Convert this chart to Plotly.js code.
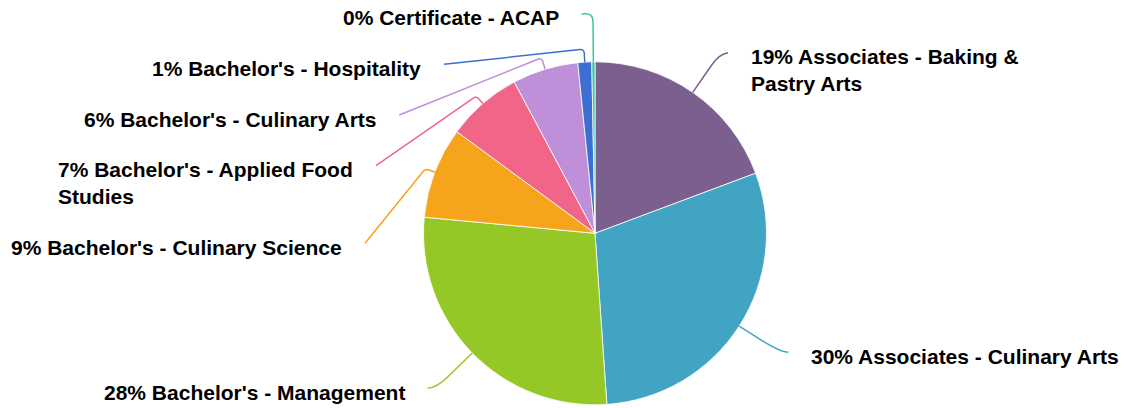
<!DOCTYPE html>
<html>
<head>
<meta charset="utf-8">
<script src="https://cdn.plot.ly/plotly-3.0.1.min.js"></script>
<style>html,body{margin:0;padding:0;background:#fff;}#chart{width:1126px;height:408px;}</style>
</head>
<body>
<div id="chart"></div>
<script>
// ---- data ----
const categories = [
  "Associates - Baking & Pastry Arts",
  "Associates - Culinary Arts",
  "Bachelor's - Management",
  "Bachelor's - Culinary Science",
  "Bachelor's - Applied Food Studies",
  "Bachelor's - Culinary Arts",
  "Bachelor's - Hospitality",
  "Certificate - ACAP"
];
const values = [19.3, 29.6, 27.6, 8.6, 7.1, 6.2, 1.3, 0.3];
const colors = ["#7b5f8e", "#41a4c3", "#95c827", "#f5a41c", "#f06588", "#bf8fd9", "#3c6fd1", "#30c99e"];

// ---- label layout (leader line end points in px, stub length, corner radius, side, wrap) ----
const labelLayout = [
  {end: [728, 52.7],   stub: 47,   corner: 14, side: "right", wrap: 26},
  {end: [788.3, 352.3],stub: 48.7, corner: 30, side: "right", wrap: 99},
  {end: [427.7, 388.3],stub: 49,   corner: 14, side: "left",  wrap: 99},
  {end: [365, 243.3],  stub: 10,   corner: 4,  side: "left",  wrap: 99},
  {end: [376, 165.7],  stub: 10,   corner: 4,  side: "left",  wrap: 28},
  {end: [399.3, 115],  stub: 12,   corner: 4,  side: "left",  wrap: 99},
  {end: [444, 64.3],   stub: 13,   corner: 4,  side: "left",  wrap: 99},
  {end: [581.7, 14],   stub: 49,   corner: 9,  side: "left",  wrap: 99}
];

const W = 1126, H = 408;
const CX = 595, CY = 233.3, R = 171.5;
const fontFamily = "Liberation Sans, Arial, Helvetica, sans-serif";
const fontSize = 21;

function px(x) { return x / W; }
function py(y) { return 1 - y / H; }

function wrapText(t, maxChars) {
  const words = t.split(" ");
  const lines = [];
  let cur = "";
  words.forEach(w => {
    if (cur.length && (cur + " " + w).length > maxChars) { lines.push(cur); cur = w; }
    else cur = cur.length ? cur + " " + w : w;
  });
  if (cur.length) lines.push(cur);
  return lines;
}

const total = values.reduce((a, b) => a + b, 0);
const shapes = [];
const annotations = [];
let cum = 0;
values.forEach((v, i) => {
  const mid = (cum + v / 2) / total * 2 * Math.PI;
  cum += v;
  const ux = Math.sin(mid), uy = -Math.cos(mid);
  const L = labelLayout[i];
  const S = [CX + R * ux, CY + R * uy];
  const K = [S[0] + ux * L.stub, S[1] + uy * L.stub];
  const E = L.end;
  const dx = E[0] - K[0], dy = E[1] - K[1];
  const dl = Math.sqrt(dx * dx + dy * dy) || 1;
  const rc1 = Math.min(L.corner, L.stub);
  const rc2 = Math.min(L.corner, dl);
  const P1 = [K[0] - ux * rc1, K[1] - uy * rc1];
  const P2 = [K[0] + dx / dl * rc2, K[1] + dy / dl * rc2];
  const f = p => px(p[0]).toFixed(5) + "," + py(p[1]).toFixed(5);
  const path = "M" + f(S) + " L" + f(P1) + " Q" + f(K) + " " + f(P2) + " L" + f(E);
  shapes.push({type: "path", xref: "paper", yref: "paper", path: path,
               line: {color: colors[i], width: 1.5}});

  const pct = Math.round(v / total * 100);
  const lines = wrapText(pct + "% " + categories[i], L.wrap);
  const yc = E[1] + 4 + (lines.length - 1) * fontSize * 0.65;
  const gap = 21;
  annotations.push({
    xref: "paper", yref: "paper",
    x: px(L.side === "right" ? E[0] + gap : E[0] - gap),
    y: py(yc),
    xanchor: L.side === "right" ? "left" : "right",
    yanchor: "middle",
    align: "left",
    showarrow: false,
    text: lines.join("<br>"),
    font: {family: fontFamily, size: fontSize, color: "#000", weight: "bold"}
  });
});

const trace = {
  type: "pie",
  labels: categories,
  values: values,
  sort: false,
  direction: "clockwise",
  rotation: 0,
  textinfo: "none",
  hoverinfo: "label+percent",
  showlegend: false,
  marker: {colors: colors, line: {color: "#ffffff", width: 0.8}},
  domain: {x: [px(CX - R), px(CX + R)], y: [py(CY + R), py(CY - R)]}
};

const layout = {
  width: W, height: H,
  margin: {l: 0, r: 0, t: 0, b: 0},
  paper_bgcolor: "#ffffff",
  showlegend: false,
  shapes: shapes,
  annotations: annotations,
  font: {family: fontFamily}
};

Plotly.newPlot("chart", [trace], layout, {displayModeBar: false, staticPlot: true});
</script>
</body>
</html>
